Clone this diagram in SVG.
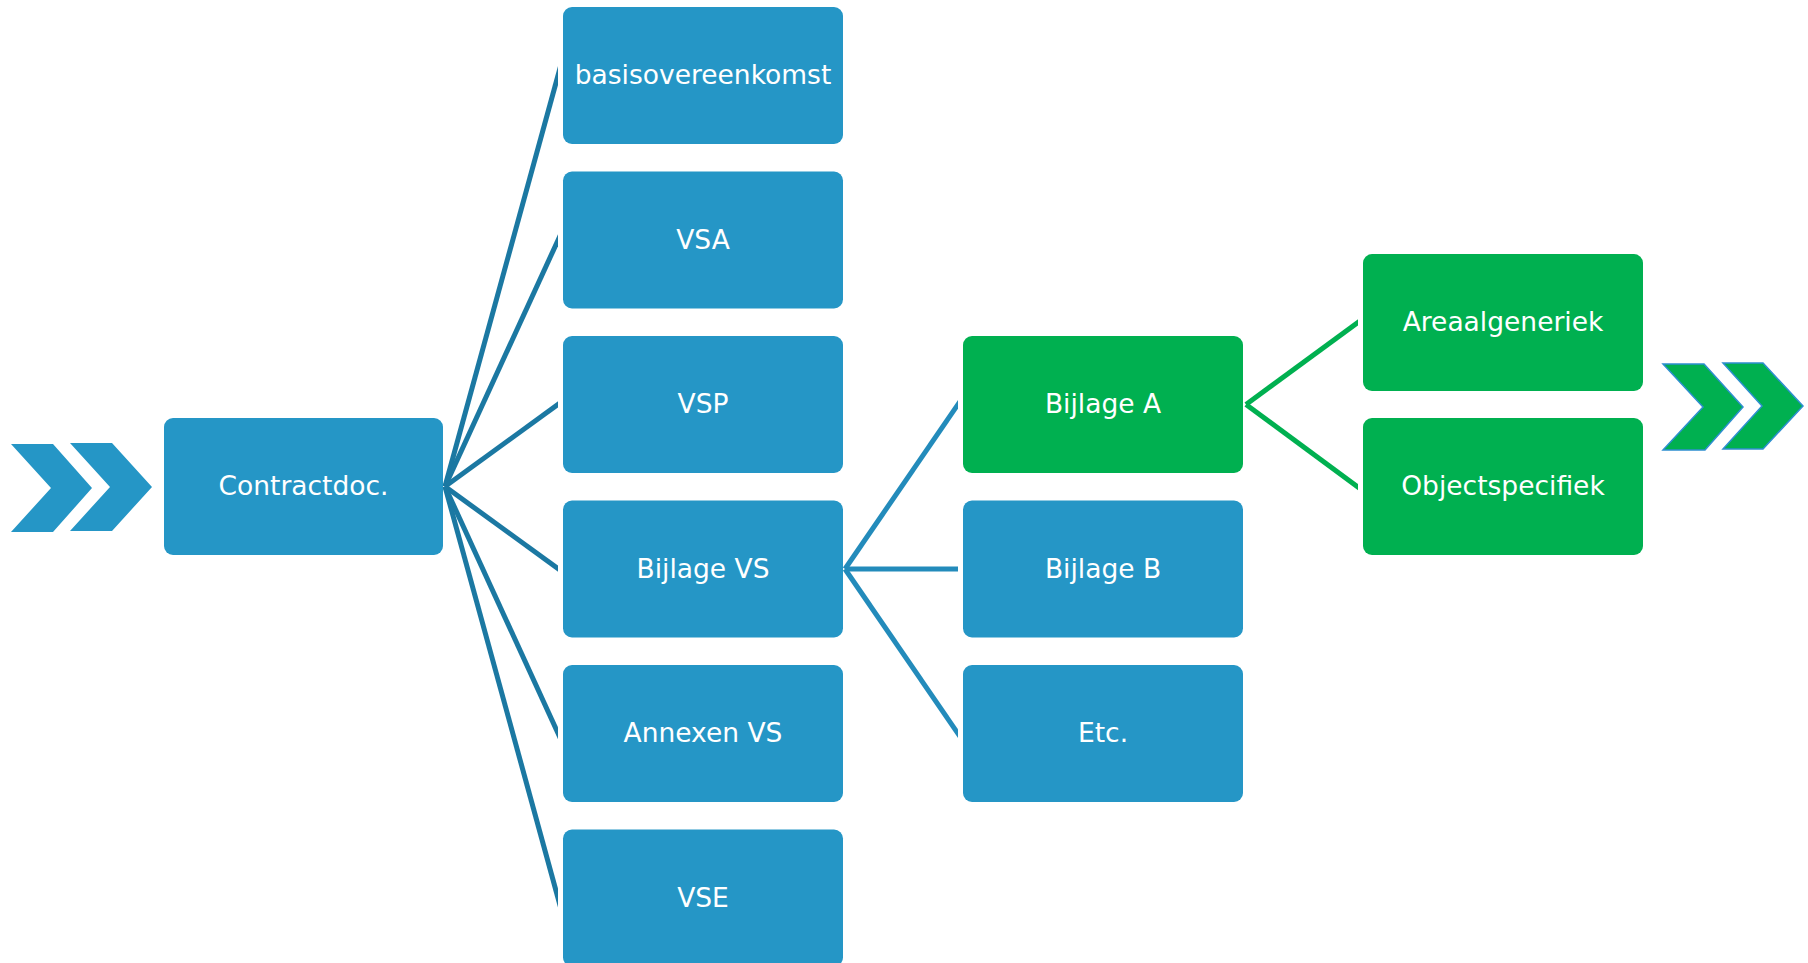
<svg xmlns="http://www.w3.org/2000/svg" width="1808" height="963" viewBox="0 0 1808 963">
<style>
.b{fill:#2596c6}
.g{fill:#00b050}
.t{font-family:"DejaVu Sans","Liberation Sans",sans-serif;font-size:26.5px;fill:#ffffff;text-anchor:middle}
.c1{stroke:#1b78a2;stroke-width:5;fill:none}
.c2{stroke:#238bbb;stroke-width:5;fill:none}
.c3{stroke:#00b050;stroke-width:5;fill:none}
.ch{fill:#2596c6}
.chg{fill:#00b050;stroke:#2e8fd0;stroke-width:1.5}
</style>
<defs>
<clipPath id="k1"><rect x="440" y="0" width="118" height="963"/></clipPath>
<clipPath id="k2"><rect x="840" y="0" width="118" height="963"/></clipPath>
<clipPath id="k3"><rect x="1240" y="0" width="118" height="963"/></clipPath>
</defs>
<rect width="1808" height="963" fill="#ffffff"/>
<g id="chevrons-left">
<polygon class="ch" points="11,444 53,444 92,488 53,532 11,532 51,488"/>
<polygon class="ch" points="70,443 112,443 152,487 112,531 70,531 110,487"/>
</g>
<g id="chevrons-right">
<polygon class="chg" points="1663,364 1704,364 1743,407 1705,450 1663,450 1703,407"/>
<polygon class="chg" points="1723,363 1763,363 1803,406 1763,449 1723,449 1762,406"/>
</g>
<g id="connectors">
<g clip-path="url(#k1)">
<line class="c1" x1="445" y1="486.5" x2="562" y2="61"/>
<line class="c1" x1="445" y1="486.5" x2="562" y2="231.5"/>
<line class="c1" x1="445" y1="486.5" x2="562" y2="401.5"/>
<line class="c1" x1="445" y1="486.5" x2="562" y2="571.5"/>
<line class="c1" x1="445" y1="486.5" x2="562" y2="742"/>
<line class="c1" x1="445" y1="486.5" x2="562" y2="912.5"/>
</g>
<g clip-path="url(#k2)">
<line class="c2" x1="845" y1="569" x2="962" y2="398.5"/>
<line class="c2" x1="845" y1="569" x2="962" y2="569"/>
<line class="c2" x1="845" y1="569" x2="962" y2="739.5"/>
</g>
<g clip-path="url(#k3)">
<line class="c3" x1="1246" y1="404.5" x2="1362" y2="319.5"/>
<line class="c3" x1="1246" y1="404.5" x2="1362" y2="490"/>
</g>
</g>
<g id="contractdoc"><rect class="b" x="164" y="418" width="279" height="137" rx="9"/><text class="t" x="303.5" y="495">Contractdoc.</text></g>
<g id="basisovereenkomst"><rect class="b" x="563" y="7" width="280" height="137" rx="9"/><text class="t" x="703" y="84">basisovereenkomst</text></g>
<g id="vsa"><rect class="b" x="563" y="171.5" width="280" height="137" rx="9"/><text class="t" x="703" y="248.5">VSA</text></g>
<g id="vsp"><rect class="b" x="563" y="336" width="280" height="137" rx="9"/><text class="t" x="703" y="413">VSP</text></g>
<g id="bijlage-vs"><rect class="b" x="563" y="500.5" width="280" height="137" rx="9"/><text class="t" x="703" y="577.5">Bijlage VS</text></g>
<g id="annexen-vs"><rect class="b" x="563" y="665" width="280" height="137" rx="9"/><text class="t" x="703" y="742">Annexen VS</text></g>
<g id="vse"><rect class="b" x="563" y="829.5" width="280" height="137" rx="9"/><text class="t" x="703" y="906.5">VSE</text></g>
<g id="bijlage-a"><rect class="g" x="963" y="336" width="280" height="137" rx="9"/><text class="t" x="1103" y="413">Bijlage A</text></g>
<g id="bijlage-b"><rect class="b" x="963" y="500.5" width="280" height="137" rx="9"/><text class="t" x="1103" y="577.5">Bijlage B</text></g>
<g id="etc"><rect class="b" x="963" y="665" width="280" height="137" rx="9"/><text class="t" x="1103" y="742">Etc.</text></g>
<g id="areaalgeneriek"><rect class="g" x="1363" y="254" width="280" height="137" rx="9"/><text class="t" x="1503" y="331">Areaalgeneriek</text></g>
<g id="objectspecifiek"><rect class="g" x="1363" y="418" width="280" height="137" rx="9"/><text class="t" x="1503" y="495">Objectspecifiek</text></g>
</svg>
